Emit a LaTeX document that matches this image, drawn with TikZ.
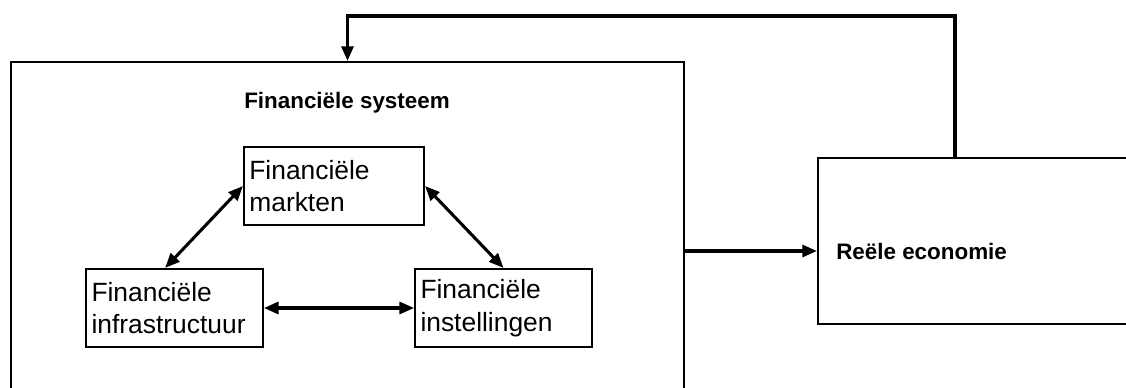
\documentclass[tikz,border=0pt]{standalone}
\usepackage{fontspec}
\setmainfont{Liberation Sans}
\usetikzlibrary{arrows.meta, positioning}

\begin{document}
\begin{tikzpicture}[
      x=0.75pt, y=-0.75pt,
      frame/.style={draw, line width=1.6pt},
      box/.style={frame, text width=124.5pt, minimum height=58.5pt,
                  inner xsep=4pt, align=left,
                  font=\fontsize{19.8}{24.5}\selectfont},
      title/.style={font=\bfseries\fontsize{16.8}{20}\selectfont},
      ar/.style={-{Triangle[length=11pt, width=9pt]}, line width=2.3pt},
      dar/.style={{Triangle[length=11pt, width=9pt]}-{Triangle[length=11pt, width=9pt]}, line width=2.3pt}
    ]
    \useasboundingbox (0,0) rectangle (1126,388);
    \clip (0,0) rectangle (1126,388);
    % outer boxes, cut off at the picture's edge
    \node[frame, minimum width=504.75pt, minimum height=283.5pt] (fin) at (347.5,251) {};
    \node[frame, minimum width=241.5pt, minimum height=124.5pt] (reel) at (979,241) {};
    \node[title] (titel) at (347,103) {Financiële systeem};
    \node[title, anchor=west] (reeltxt) at ([xshift=11pt, yshift=-7.5pt]reel.west) {Reële economie};
    % inner boxes
    \node[box, text width=127pt] (markt) at (334,186) {Financiële\\markten};
    \node[box] (infra) at (174.5,308) {Financiële\\infrastructuur};
    \node[box] (inst) at (503.5,308) {Financiële\\instellingen};
    \draw[dar] ([xshift=-7pt]infra.north) -- (markt.west);
    \draw[dar] (markt.east) -- (inst.north);
    \draw[dar] (infra) -- (inst);
    % links with the real economy
    \draw[ar] (fin.east |- reeltxt) -- (reel.west |- reeltxt);
    \coordinate (boven) at (347.5,16);
    \draw[ar] ([xshift=-18pt]reel.north) |- (boven) -- (fin.north);
  \end{tikzpicture}
\end{document}
